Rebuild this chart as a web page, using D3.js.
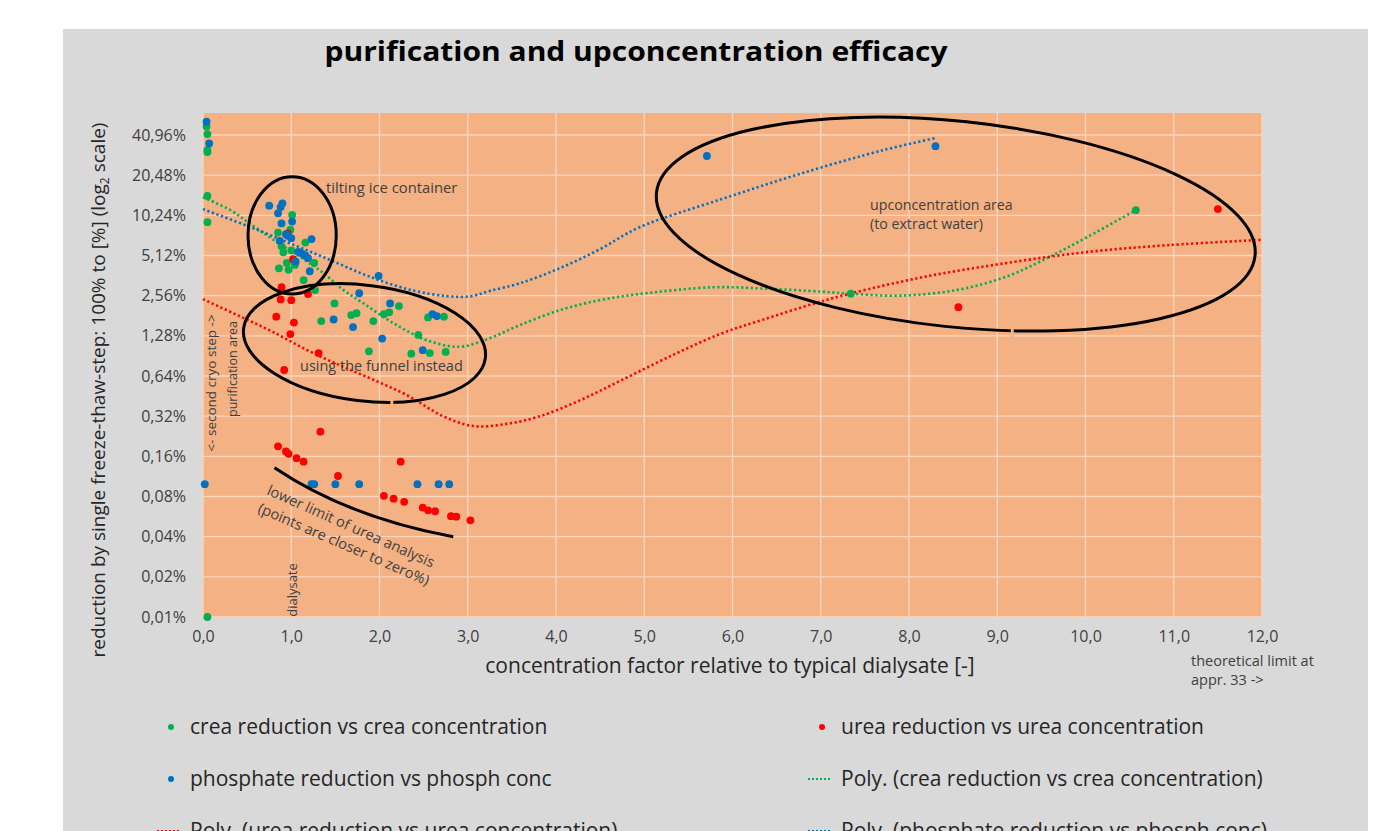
<!DOCTYPE html>
<html><head><meta charset="utf-8">
<script src="https://cdn.jsdelivr.net/npm/d3@7"></script>
<style>body{margin:0;background:#fff} svg{display:block}</style>
</head><body><svg id="c" width="1392" height="831"></svg>
<script>
// ---------- DATA ----------
const xTickValues = [0,1,2,3,4,5,6,7,8,9,10,11,12];
const xTickLabels = ["0,0","1,0","2,0","3,0","4,0","5,0","6,0","7,0","8,0","9,0","10,0","11,0","12,0"];
const yTickValues = [0.01,0.02,0.04,0.08,0.16,0.32,0.64,1.28,2.56,5.12,10.24,20.48,40.96];
const yTickLabels = ["0,01%","0,02%","0,04%","0,08%","0,16%","0,32%","0,64%","1,28%","2,56%","5,12%","10,24%","20,48%","40,96%"];

// crea reduction vs crea concentration  [concentration factor, reduction %]
const creaPoints = [
  [0.04,47.4],[0.05,41.6],[0.05,31.6],[0.05,30.5],[0.05,14.3],[0.05,9.1],[0.05,0.01],
  [1.01,10.3],[0.99,8.0],[0.85,7.6],[0.89,6.0],[1.16,6.4],[1.0,5.6],[0.91,5.4],[0.95,4.5],
  [0.86,4.1],[0.97,4.0],[1.04,4.35],[1.26,4.5],[1.14,3.35],[1.27,2.82],
  [1.49,2.24],[2.22,2.14],[1.68,1.83],[1.74,1.89],[2.05,1.86],[2.11,1.92],[2.55,1.76],[2.73,1.78],
  [1.34,1.65],[1.93,1.65],[2.44,1.30],[1.88,0.98],[2.36,0.94],[2.57,0.95],[2.75,0.97],
  [7.34,2.65],[10.57,11.2]
];
// urea reduction vs urea concentration
const ureaPoints = [
  [0.96,7.5],[1.02,4.8],[0.89,2.96],[1.19,2.63],[0.88,2.4],[1.0,2.37],[0.83,1.78],[1.03,1.61],
  [0.99,1.32],[1.31,0.95],[0.92,0.71],
  [1.33,0.245],[0.85,0.19],[0.94,0.174],[0.97,0.167],[1.06,0.155],[1.14,0.146],[2.24,0.146],
  [1.53,0.114],[2.05,0.081],[2.16,0.077],[2.28,0.073],[2.49,0.066],[2.55,0.063],[2.63,0.062],
  [2.81,0.057],[2.87,0.0565],[3.03,0.053],
  [8.56,2.1],[11.5,11.4]
];
// phosphate reduction vs phosph conc
const phosPoints = [
  [0.04,51.5],[0.07,35.4],[0.02,0.099],
  [0.75,12.1],[0.90,12.6],[0.88,11.8],[0.85,10.6],[1.01,9.2],[0.89,8.9],[0.94,7.4],[0.96,7.2],
  [1.0,6.9],[0.87,6.6],[1.23,6.8],[1.08,5.45],[1.12,5.3],[1.16,5.1],[1.19,4.9],[1.05,4.6],[1.21,3.9],
  [1.99,3.6],[1.77,2.67],[2.12,2.24],[2.60,1.86],[2.65,1.80],[1.48,1.70],[1.70,1.49],[2.03,1.22],[2.49,1.0],
  [1.23,0.099],[1.26,0.099],[1.50,0.099],[1.77,0.099],[2.43,0.099],[2.67,0.099],[2.79,0.099],
  [5.71,28.5],[8.30,33.8]
];
// polynomial trend lines
const creaTrend = [[0,14.0],[0.31,11.2],[0.53,8.9],[0.80,6.7],[1.10,5.0],[1.36,3.8],[1.59,2.83],[1.82,2.24],
  [2.16,1.59],[2.53,1.19],[2.91,1.06],[3.25,1.23],[3.59,1.54],[4.05,2.0],[4.50,2.37],[4.94,2.63],
  [5.78,2.96],[6.33,2.90],[7.02,2.74],[7.34,2.65],[7.90,2.56],[8.55,2.83],[9.10,3.55],[9.56,4.88],
  [10.03,7.1],[10.57,11.2]];
const ureaTrend = [[0,2.41],[0.42,1.79],[0.79,1.37],[1.18,1.00],[1.55,0.77],[1.93,0.60],[2.31,0.46],
  [2.72,0.32],[3.06,0.27],[3.44,0.28],[3.82,0.32],[4.27,0.42],[4.73,0.59],[5.34,0.93],[5.87,1.33],
  [6.33,1.68],[6.93,2.24],[7.35,2.67],[8.18,3.55],[9.10,4.49],[10.03,5.45],[10.95,6.13],[12.0,6.71]];
const phosTrend = [[0,11.4],[0.53,8.4],[0.99,6.3],[1.44,4.74],[1.89,3.55],[2.35,2.83],[2.76,2.54],
  [3.03,2.53],[3.25,2.78],[3.59,3.17],[4.05,4.13],[4.50,5.72],[4.94,8.3],[5.87,13.5],[6.79,21.2],
  [7.72,31.7],[8.29,38.7]];

const seriesNames = ["crea reduction vs crea concentration","urea reduction vs urea concentration",
  "phosphate reduction vs phosph conc","Poly. (crea reduction vs crea concentration)",
  "Poly. (urea reduction vs urea concentration)","Poly. (phosphate reduction vs phosph conc)"];

// ---------- DRAW ----------
const GREEN="#00b050", RED="#ff0000", BLUE="#0070c0";
const FONT="'Open Sans', sans-serif";
const svg = d3.select("#c");
svg.append("rect").attr("width",1392).attr("height",831).attr("fill","#fff");
svg.append("rect").attr("x",63).attr("y",29).attr("width",1305).attr("height",802).attr("fill","#d9d9d9");

const L=203, R=1262, T=113, B=617;
const xs = d3.scaleLinear().domain([0,12]).range([L,R]);
const ys = d3.scaleLog().base(2).domain([0.01,40.96]).range([B,135]);

svg.append("rect").attr("x",L).attr("y",T).attr("width",R-L).attr("height",B-T).attr("fill","#f4b183");

// grid
const g = svg.append("g");
g.selectAll(".vg").data(xTickValues).join("line")
  .attr("x1",d=>xs(d)).attr("x2",d=>xs(d)).attr("y1",T).attr("y2",B)
  .attr("stroke","#f8d6bf").attr("stroke-width",1.4);
g.selectAll(".hg").data(yTickValues).join("line")
  .attr("x1",L).attr("x2",R).attr("y1",d=>ys(d)).attr("y2",d=>ys(d))
  .attr("stroke","#f8d6bf").attr("stroke-width",1.4);

// axes
const xAxis = d3.axisBottom(xs).tickValues(xTickValues).tickFormat((d,i)=>xTickLabels[i]).tickSize(0).tickPadding(14);
const yAxis = d3.axisLeft(ys).tickValues(yTickValues).tickFormat((d,i)=>yTickLabels[i]).tickSize(0).tickPadding(17);
const xg = svg.append("g").attr("transform",`translate(0,${B})`).call(xAxis);
const yg = svg.append("g").attr("transform",`translate(${L},0)`).call(yAxis);
[xg,yg].forEach(a=>{a.select(".domain").remove();
  a.selectAll("text").attr("font-family",FONT).attr("font-size",16).attr("fill","#404040");});

// trend lines
const line = d3.line().x(d=>xs(d[0])).y(d=>ys(d[1])).curve(d3.curveCatmullRom.alpha(0.5));
[[creaTrend,GREEN],[ureaTrend,RED],[phosTrend,BLUE]].forEach(([d,c])=>{
  svg.append("path").attr("d",line(d)).attr("fill","none").attr("stroke",c)
    .attr("stroke-width",2.6).attr("stroke-dasharray","2.2 2.6");
});

// points
[[creaPoints,GREEN],[ureaPoints,RED],[phosPoints,BLUE]].forEach(([d,c])=>{
  svg.append("g").selectAll("circle").data(d).join("circle")
    .attr("cx",p=>xs(p[0])).attr("cy",p=>ys(p[1])).attr("r",3.9).attr("fill",c);
});

// annotation ellipses (in data space)
function ell(cx,cy,ax,bLog,rot,gap){
  const px=xs(cx), py=ys(cy);
  const rx=xs(cx+ax)-px, ry=py-ys(cy*Math.pow(2,bLog));
  svg.append("ellipse").attr("cx",px).attr("cy",py).attr("rx",rx).attr("ry",ry)
    .attr("transform",`rotate(${rot},${px},${py})`)
    .attr("fill","none").attr("stroke","#000").attr("stroke-width",3);
  if(gap){ svg.append("rect").attr("x",xs(gap[0])-1.5).attr("y",ys(gap[1])-5).attr("width",3).attr("height",10).attr("fill","#f4b183"); }
}
ell(1.01,7.24,0.5,1.46,0,null);
ell(1.83,1.13,1.38,1.44,7,[2.14,0.42]);
ell(8.53,8.8,3.41,2.56,6,[9.17,1.32]);

// lower limit curve
{
  const p0=[xs(0.81),ys(0.1315)], p2=[xs(2.836),ys(0.040)];
  const c=[xs(1.657),ys(0.0554)];
  svg.append("path").attr("d",`M${p0[0]},${p0[1]} Q${c[0]},${c[1]} ${p2[0]},${p2[1]}`)
    .attr("fill","none").attr("stroke","#000").attr("stroke-width",3);
}

// annotation texts
function txt(x,y,s,size,opts={}){
  const t=svg.append("text").attr("x",x).attr("y",y).text(s).attr("font-family",FONT)
    .attr("font-size",size).attr("fill",opts.fill||"#404040");
  if(opts.rot!==undefined) t.attr("transform",`rotate(${opts.rot},${x},${y})`);
  if(opts.anchor) t.attr("text-anchor",opts.anchor);
  if(opts.weight) t.attr("font-weight",opts.weight);
  return t;
}
txt(326,193,"tilting ice container",14.8);
txt(870,210,"upconcentration area",14.2);
txt(870,229,"(to extract water)",14.2);
txt(300,371,"using the funnel instead",14.5);
txt(216,383,"<-  second cryo step ->",13.5,{rot:-90,anchor:"middle"});
txt(237,369,"purification area",12.5,{rot:-90,anchor:"middle"});
txt(297,590,"dialysate",13,{rot:-90,anchor:"middle"});
txt(266,494,"lower limit of urea analysis",14.6,{rot:24});
txt(257,512,"(points are closer to zero%)",14.6,{rot:23.5});
txt(1191,666,"theoretical limit at",14.5);
txt(1191,685,"appr. 33   ->",14.5);

// title
txt(636,61,"purification and upconcentration efficacy",26,{anchor:"middle",weight:"bold",fill:"#000"})
  .attr("textLength",623).attr("lengthAdjust","spacingAndGlyphs");

// axis titles
txt(730,673,"concentration factor relative to typical dialysate [-]",21,{anchor:"middle",fill:"#262626"});
{
  const t=svg.append("text").attr("transform","translate(105,390) rotate(-90)")
    .attr("text-anchor","middle").attr("font-family",FONT).attr("font-size",19).attr("fill","#262626");
  t.append("tspan").text("reduction by single freeze-thaw-step:  100% to  [%] (log");
  t.append("tspan").text("2").attr("font-size",12).attr("dy",4);
  t.append("tspan").text(" scale)").attr("dy",-4);
}

// legend
const legendItems = [
  {name:seriesNames[0], color:GREEN, type:"dot", x:171, y:727},
  {name:seriesNames[1], color:RED,   type:"dot", x:822, y:727},
  {name:seriesNames[2], color:BLUE,  type:"dot", x:171, y:779},
  {name:seriesNames[3], color:GREEN, type:"line",x:822, y:779},
  {name:seriesNames[4], color:RED,   type:"line",x:171, y:831},
  {name:seriesNames[5], color:BLUE,  type:"line",x:822, y:831}
];
legendItems.forEach(it=>{
  if(it.type==="dot") svg.append("circle").attr("cx",it.x).attr("cy",it.y).attr("r",3).attr("fill",it.color);
  else svg.append("line").attr("x1",it.x-14).attr("x2",it.x+10).attr("y1",it.y).attr("y2",it.y)
     .attr("stroke",it.color).attr("stroke-width",2).attr("stroke-dasharray","2 2");
  txt(it.x+19,it.y+7,it.name,21,{fill:"#262626"});
});
</script></body></html>
